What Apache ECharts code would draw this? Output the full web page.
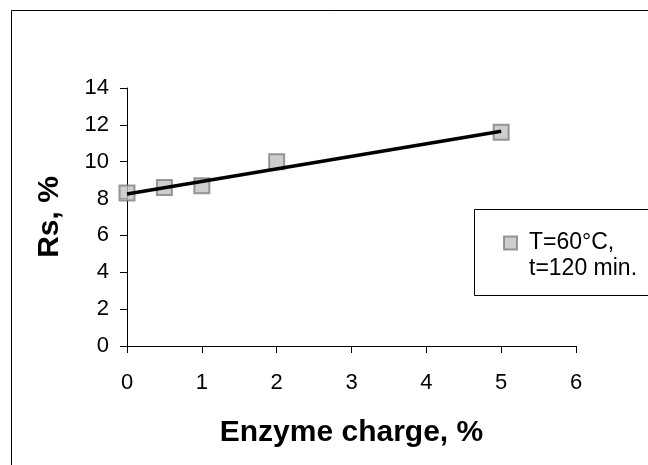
<!DOCTYPE html>
<html>
<head>
<meta charset="utf-8">
<script src="https://cdn.jsdelivr.net/npm/echarts@6/dist/echarts.min.js"></script>
<style>
  html, body { margin: 0; padding: 0; background: #fff; }
  #chart { width: 648px; height: 465px; }
</style>
</head>
<body>
<div id="chart"></div>
<script>
// measured points: enzyme charge (%) vs Rs (%)
const enzymeCharge = [0, 0.5, 1, 2, 5];
const rsValues = [8.3, 8.6, 8.7, 10.0, 11.6];
// trend line ends
const trendX = [0, 5];
const trendY = [8.25, 11.65];
const seriesName = 'T=60°C,\nt=120 min.';

const chart = echarts.init(document.getElementById('chart'));
const font = 'Arial, "Liberation Sans", sans-serif';

chart.setOption({
  animation: false,
  backgroundColor: '#fff',
  textStyle: { fontFamily: font },
  graphic: [
    { // outer frame
      type: 'rect',
      shape: { x: 11.5, y: 10.5, width: 700, height: 500 },
      style: { fill: 'none', stroke: '#000', lineWidth: 1 },
      silent: true,
      z: -1
    },
    { // legend frame
      type: 'rect',
      shape: { x: 474.5, y: 209.5, width: 300, height: 86 },
      style: { fill: '#fff', stroke: '#000', lineWidth: 1 },
      silent: true,
      z: 0
    }
  ],
  grid: { left: 127, right: 72, top: 88, bottom: 119 },
  legend: {
    data: [seriesName],
    left: 503,
    top: 204,
    padding: 0,
    itemWidth: 13,
    itemHeight: 13,
    z: 5,
    // empty first line keeps the marker level with "T=60°C,"
    formatter: name => '\n' + name,
    textStyle: {
      fontSize: 23, color: '#000', fontFamily: font,
      lineHeight: 26, padding: [0, 0, 0, 7]
    }
  },
  xAxis: {
    type: 'value',
    min: 0,
    max: 6,
    interval: 1,
    name: 'Enzyme charge, %',
    nameLocation: 'middle',
    nameGap: 72,
    nameTextStyle: { fontSize: 30, fontWeight: 'bold', color: '#000' },
    axisLine: { lineStyle: { color: '#000', width: 1 } },
    axisTick: { length: 7, lineStyle: { color: '#000' } },
    axisLabel: { fontSize: 22, color: '#000', margin: 26 },
    splitLine: { show: false }
  },
  yAxis: {
    type: 'value',
    min: 0,
    max: 14,
    interval: 2,
    name: 'Rs, %',
    nameLocation: 'middle',
    nameGap: 62,
    nameTextStyle: { fontSize: 30, fontWeight: 'bold', color: '#000' },
    axisLine: { show: true, lineStyle: { color: '#000', width: 1 } },
    axisTick: { show: true, length: 7, lineStyle: { color: '#000' } },
    axisLabel: { fontSize: 22, color: '#000', margin: 18 },
    splitLine: { show: false }
  },
  series: [
    {
      name: 'trend',
      type: 'line',
      data: trendX.map((x, i) => [x, trendY[i]]),
      showSymbol: false,
      symbol: 'none',
      lineStyle: { color: '#000', width: 3.5 },
      z: 3
    },
    {
      name: seriesName,
      type: 'scatter',
      data: enzymeCharge.map((x, i) => [x, rsValues[i]]),
      symbol: 'rect',
      symbolSize: 15,
      itemStyle: { color: '#c0c0c0', borderColor: '#808080', borderWidth: 2 },
      z: 2
    }
  ]
});
</script>
</body>
</html>
